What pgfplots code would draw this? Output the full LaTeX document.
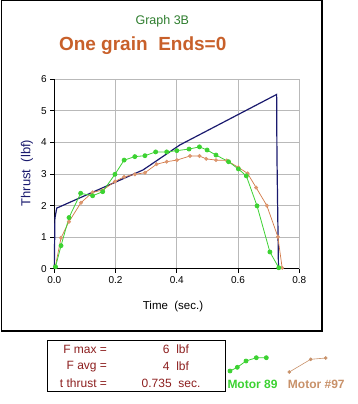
\documentclass[border=0pt]{standalone}
\usepackage{pgfplots}
\pgfplotsset{compat=1.18}
\usepackage{fontspec}
\setmainfont{Liberation Sans}
\definecolor{navy}{RGB}{26,26,110}
\definecolor{grn}{RGB}{60,210,50}
\definecolor{org}{RGB}{210,120,70}
\definecolor{tanm}{RGB}{220,150,110}
\definecolor{legtan}{RGB}{200,145,105}
\definecolor{titleorg}{RGB}{200,96,42}
\definecolor{gtitle}{RGB}{46,125,46}
\definecolor{dred}{RGB}{140,30,30}
\definecolor{gridgray}{RGB}{185,185,185}

\begin{document}
\begin{tikzpicture}
\begin{scope}[x=1pt,y=-1pt]
\path[use as bounding box] (0,0) rectangle (358,404);
\draw[line width=1.3pt] (1.5,0.7) rectangle (322,331);
\node[gtitle, font=\fontsize{12.5}{14}\selectfont] at (162.3,21) {Graph 3B};
\node[titleorg, font=\bfseries\fontsize{19}{21}\selectfont] at (142.7,46) {One grain\ \ Ends=0};
\node[navy, rotate=90, font=\fontsize{13}{15}\selectfont] at (27,173) {Thrust\ \ (lbf)};
\node[black, font=\fontsize{11.5}{13}\selectfont] at (173,306.5) {Time\ \ (sec.)};
\draw[line width=0.9pt] (47.7,340) rectangle (225.5,391);
\begin{scope}[font=\fontsize{12}{14}\selectfont, dred]
\node[anchor=east] at (110.5,349.5) {F max =};
\node[anchor=east] at (110.5,366.5) {F avg =};
\node[anchor=east] at (110.5,383.5) {t thrust =};
\node at (176,349.5) {6\ \ lbf};
\node at (176,366.5) {4\ \ lbf};
\node at (171,383.5) {0.735\ \ sec.};
\end{scope}
\node[grn, font=\bfseries\fontsize{12}{14}\selectfont] at (252.5,384) {Motor 89};
\node[legtan, font=\bfseries\fontsize{12}{14}\selectfont] at (316.3,384) {Motor \#97};
\end{scope}

\begin{axis}[at={(54.3pt,-268.7pt)}, anchor=south west, scale only axis,
  width=245pt, height=189.4pt,
  xmin=0, xmax=0.8, ymin=0, ymax=6,
  xtick={0,0.2,0.4,0.6,0.8}, ytick={0,1,2,3,4,5,6},
  axis x line*=bottom, axis y line*=left,
  axis line style={-, black, line width=1pt},
  tick align=outside, major tick length=4pt,
  tick style={black, line width=0.8pt},
  grid=major, grid style={gridgray, line width=0.8pt},
  /pgf/number format/assume math mode=true,
  tick label style={font=\fontsize{10}{12}\selectfont},
  x tick label style={/pgf/number format/.cd, fixed, fixed zerofill, precision=1},
  clip=false]
\addplot[navy, line width=1.2pt, no marks] coordinates {
(0,0) (0.002,1.6) (0.008,1.92) (0.29,3.13) (0.41,3.92) (0.726,5.52) (0.727,3.62) (0.732,0)};
\addplot[org, line width=0.7pt, mark=*, mark size=1.6pt, mark options={fill=tanm, draw=tanm}] coordinates {
(0.003,0.05) (0.022,0.98) (0.048,1.49) (0.087,2.09) (0.125,2.42) (0.158,2.49)
(0.198,2.76) (0.228,2.91) (0.263,2.99) (0.296,3.04) (0.334,3.31) (0.367,3.39)
(0.400,3.44) (0.443,3.57) (0.474,3.57) (0.496,3.48) (0.528,3.44) (0.563,3.43)
(0.601,3.21) (0.631,3.02) (0.659,2.57) (0.694,2.00) (0.730,1.01) (0.744,0.03)};
\addplot[grn, line width=0.8pt, mark=*, mark size=2pt] coordinates {
(0.004,0.06) (0.022,0.73) (0.048,1.62) (0.086,2.39) (0.125,2.31) (0.158,2.44)
(0.198,2.99) (0.228,3.44) (0.263,3.55) (0.296,3.58) (0.331,3.70) (0.367,3.70)
(0.400,3.74) (0.440,3.79) (0.474,3.86) (0.499,3.76) (0.528,3.60) (0.569,3.39)
(0.601,3.16) (0.627,2.94) (0.662,1.99) (0.704,0.53) (0.733,0.03)};
\end{axis}

\begin{axis}[at={(0pt,0pt)}, anchor=north west, scale only axis,
  width=358pt, height=404pt, xmin=0, xmax=358, ymin=0, ymax=404,
  y dir=reverse, hide axis, clip=false]
\addplot[grn, line width=0.8pt, mark=*, mark size=2pt] coordinates {
(230,371) (237.3,367.3) (246,361) (256.3,357.7) (266.3,357.7)};
\addplot[legtan, line width=0.6pt, mark=*, mark size=1.5pt, mark options={fill=legtan}] coordinates {
(289.3,372) (310.7,359.3) (325.7,358)};
\end{axis}
\end{tikzpicture}
\end{document}
